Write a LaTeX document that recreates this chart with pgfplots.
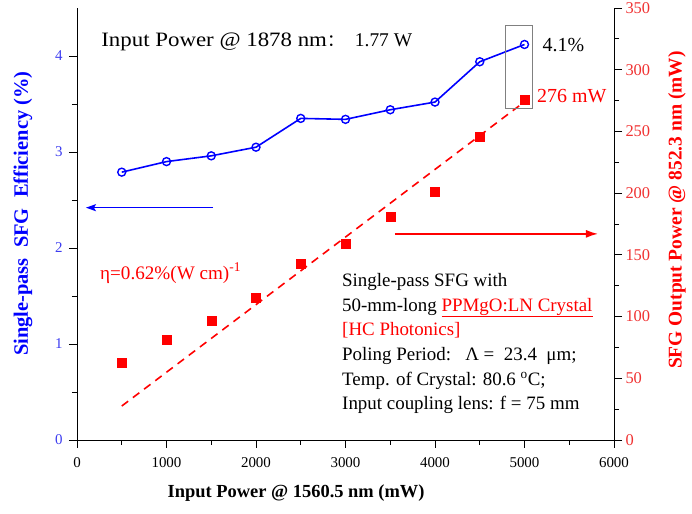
\documentclass[border=0pt]{standalone}
\usepackage{fontspec}
\setmainfont{Liberation Serif}
\newfontfamily\wide[FakeStretch=1.12]{Liberation Serif}
\newfontfamily\cjk{Noto Sans CJK SC}
\usepackage{pgfplots}
\pgfplotsset{compat=1.18}
\usetikzlibrary{arrows.meta}
\definecolor{bl}{RGB}{0,0,255}
\definecolor{bltick}{RGB}{60,60,240}
\definecolor{rd}{RGB}{255,0,0}
\definecolor{rdtick}{RGB}{240,50,50}
\begin{document}
\begin{tikzpicture}
\useasboundingbox (-77bp,-74bp) rectangle (615bp,440bp);
\begin{axis}[
  scale only axis, width=537bp, height=432bp,
  at={(0,0)}, anchor=south west,
  xmin=0, xmax=6000, ymin=0, ymax=4.5,
  axis x line*=bottom, axis y line*=left,
  axis line style={line width=1pt, -},
  xtick={0,1000,...,6000}, minor xtick={500,1500,...,5500},
  ytick={0,1,2,3,4}, minor ytick={0.5,1.5,2.5,3.5},
  tick align=outside,
  major tick length=8bp, minor tick length=5bp,
  tick style={line width=0.8pt, black},
  /pgf/number format/assume math mode=true,
  /pgf/number format/1000 sep={},
  ticklabel style={font=\fontsize{15}{15}\selectfont},
  yticklabel style={text=bltick, xshift=-3bp},
  xticklabel style={yshift=-6bp},
  xlabel={Input Power @ 1560.5 nm (mW)},
  ylabel={Single-pass\ \ SFG\ \ Efficiency (\%)},
  xlabel style={font=\bfseries\fontsize{18.5}{18.5}\selectfont, at={(axis description cs:0.408,-0.123)}, anchor=center},
  ylabel style={font=\bfseries\fontsize{20.5}{20.5}\selectfont, text=bl, at={(axis description cs:-0.1005,0.524)}, anchor=center, rotate=0},
  clip=false,
]
\addplot[color=bl, line width=1.6pt, mark=o, mark size=4bp, mark options={line width=1.4pt, fill=white}]
  coordinates {(500,2.79) (1000,2.90) (1500,2.96) (2000,3.05) (2500,3.35) (3000,3.34) (3500,3.44) (4000,3.52) (4500,3.94) (5000,4.12)};
\draw[bl, line width=1.5pt, -{Stealth[length=10bp,width=7bp,inset=2bp]}] (axis cs:1520,2.42) -- (axis cs:100,2.42);
\node[anchor=west, font=\wide\fontsize{20.5}{20.5}\selectfont, inner sep=0pt] at (axis cs:270,4.15) {Input Power @ 1878 nm{\cjk\fontsize{17}{17}\selectfont ：}\hspace{11bp}{\fontspec{Liberation Serif}\fontsize{19.5}{19.5}\selectfont 1.77 W}};
\node[anchor=west, font=\fontsize{19.2}{19.2}\selectfont, inner sep=0pt, text=rd] at (axis cs:257,1.74) {η=0.62\%(W cm)\textsuperscript{-1}};
\end{axis}
\begin{axis}[
  scale only axis, width=537bp, height=432bp,
  at={(0,0)}, anchor=south west,
  xmin=0, xmax=6000, ymin=0, ymax=350,
  axis x line=none, axis y line*=right,
  axis line style={line width=1pt, -},
  ytick={0,50,...,350}, minor ytick={25,75,...,325},
  tick align=outside,
  major tick length=8bp, minor tick length=5bp,
  tick style={line width=0.8pt, black},
  /pgf/number format/assume math mode=true,
  ticklabel style={font=\fontsize{16.5}{16.5}\selectfont},
  yticklabel style={text=rdtick},
  ylabel={SFG Output Power @ 852.3 nm (mW)},
  ylabel style={font=\bfseries\fontsize{19.5}{19.5}\selectfont, text=rd, at={(axis description cs:1.117,0.532)}, anchor=center, rotate=0},
  clip=false,
]
\addplot[only marks, color=rd, mark=square*, mark size=4.5bp]
  coordinates {(500,63) (1000,81) (1500,97) (2000,115) (2500,143) (3000,159) (3500,181) (4000,201) (4500,246) (5000,276)};
\addplot[color=rd, line width=1.6pt, dash pattern=on 8bp off 6bp]
  coordinates {(500,27.5) (5000,274)};
\draw[rd, line width=1.5pt, -{Latex[length=12bp,width=8bp]}] (axis cs:3553,167) -- (axis cs:5821,167);
\draw[gray, line width=0.8pt] (axis cs:4782,269) rectangle (axis cs:5084,335.5);
\node[anchor=west, font=\fontsize{20}{20}\selectfont, inner sep=0pt] at (axis cs:5200,320) {4.1\%};
\node[anchor=west, font=\fontsize{20}{20}\selectfont, inner sep=0pt, text=rd] at (axis cs:5140,279) {276 mW};
\node[anchor=north west, align=left, font=\fontsize{19}{24.8}\selectfont, inner sep=0pt] at (axis cs:2961,135.3)
  {Single-pass SFG with\\50-mm-long \textcolor{rd}{\underline{PPMgO:LN Crystal}}\\\textcolor{rd}{[HC Photonics]}\\Poling Period:\ \ \ Λ =\ \ 23.4\ \ μm;\\Temp. of Crystal: 80.6 \textsuperscript{o}C;\\Input coupling lens: f = 75 mm};
\end{axis}
\end{tikzpicture}
\end{document}
